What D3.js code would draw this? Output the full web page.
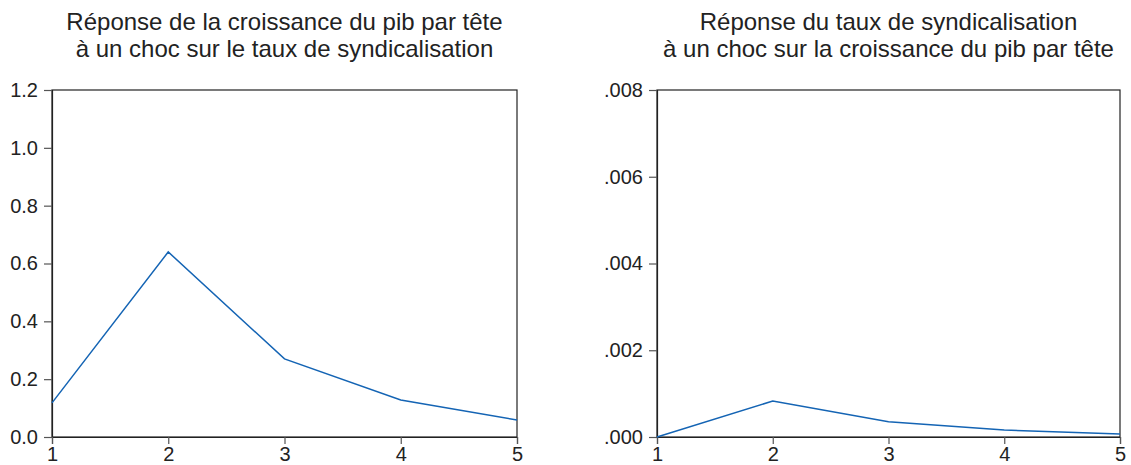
<!DOCTYPE html>
<html>
<head>
<meta charset="utf-8">
<script src="https://cdn.jsdelivr.net/npm/d3@7"></script>
<style>
  body { margin: 0; background: #fff; }
  svg { font-family: "Liberation Sans", Arial, sans-serif; }
</style>
</head>
<body>
<div id="chart"></div>
<script>
const periods = [1, 2, 3, 4, 5];
const pibResponse = [0.118, 0.640, 0.270, 0.128, 0.059];
const syndResponse = [0.0000, 0.00083, 0.00035, 0.00016, 0.00007];
const leftTicks = [0.0, 0.2, 0.4, 0.6, 0.8, 1.0, 1.2];
const rightTicks = [0, 0.002, 0.004, 0.006, 0.008];
const leftTitle = ["Réponse de la croissance du pib par tête", "à un choc sur le taux de syndicalisation"];
const rightTitle = ["Réponse du taux de syndicalisation", "à un choc sur la croissance du pib par tête"];

const width = 1131;
const height = 465;

const svg = d3.select("#chart")
  .append("svg")
  .attr("width", width)
  .attr("height", height);

function panel(left, right, values, ticks, fmt, title) {
  const top = 90, bottom = 437;

  const x = d3.scaleLinear()
    .domain([1, 5])
    .range([left, right]);

  const y = d3.scaleLinear()
    .domain([0, d3.max(ticks)])
    .range([bottom, top]);

  const g = svg.append("g");

  // frame
  g.append("rect")
    .attr("x", left)
    .attr("y", top)
    .attr("width", right - left)
    .attr("height", bottom - top)
    .attr("fill", "none")
    .attr("stroke", "#222")
    .attr("stroke-width", 1.2);

  const yAxis = g.append("g")
    .attr("transform", `translate(${left},0)`)
    .call(d3.axisLeft(y).tickValues(ticks).tickFormat(fmt).tickSize(8).tickPadding(6));

  const xAxis = g.append("g")
    .attr("transform", `translate(0,${bottom})`)
    .call(d3.axisBottom(x).tickValues(periods).tickFormat(d3.format("d")).tickSize(7).tickPadding(3));

  [yAxis, xAxis].forEach(a => {
    a.attr("font-size", null).attr("font-family", null);
    a.select(".domain").attr("stroke", "#222").attr("stroke-width", 1.2);
    a.selectAll(".tick line").attr("stroke", "#555").attr("stroke-width", 1.2);
    a.selectAll("text")
      .attr("fill", "#222")
      .style("font-size", "20px");
  });

  const line = d3.line()
    .x((d, i) => x(periods[i]))
    .y(d => y(d));

  g.append("path")
    .datum(values)
    .attr("d", line)
    .attr("fill", "none")
    .attr("stroke", "#1464b4")
    .attr("stroke-width", 1.5);

  g.append("text")
    .attr("text-anchor", "middle")
    .attr("fill", "#222")
    .style("font-size", "24px")
    .selectAll("tspan")
    .data(title)
    .join("tspan")
    .attr("x", (left + right) / 2)
    .attr("y", (d, i) => 30 + i * 27)
    .text(d => d);
}

panel(52, 517, pibResponse, leftTicks, d3.format(".1f"), leftTitle);
panel(657, 1120, syndResponse, rightTicks, d => d3.format(".3f")(d).replace(/^0/, ""), rightTitle);
</script>
</body>
</html>
